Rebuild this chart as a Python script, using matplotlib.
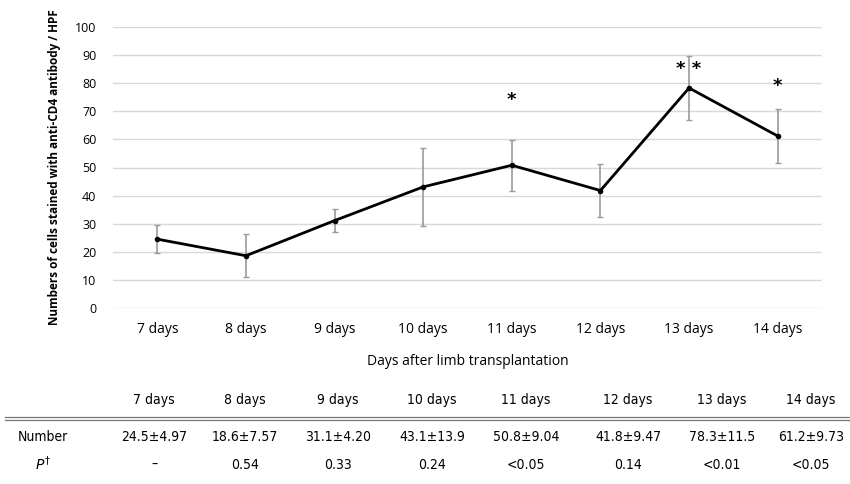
import matplotlib
matplotlib.use("Agg")
import matplotlib.pyplot as plt
import numpy as np

days = ["7 days", "8 days", "9 days", "10 days", "11 days", "12 days", "13 days", "14 days"]
means = [24.5, 18.6, 31.1, 43.1, 50.8, 41.8, 78.3, 61.2]
sds = [4.97, 7.57, 4.20, 13.9, 9.04, 9.47, 11.5, 9.73]
number_labels = ["24.5\u00b14.97", "18.6\u00b17.57", "31.1\u00b14.20", "43.1\u00b113.9",
                 "50.8\u00b19.04", "41.8\u00b19.47", "78.3\u00b111.5", "61.2\u00b19.73"]
p_labels = ["\u2013", "0.54", "0.33", "0.24", "<0.05", "0.14", "<0.01", "<0.05"]
stars = ["", "", "", "", "*", "", "* *", "*"]
star_y = [0, 0, 0, 0, 74, 0, 85, 79]

plt.rcParams['font.family'] = ['Open Sans', 'DejaVu Sans']

fig = plt.figure(figsize=(8.5, 4.84), dpi=100)
W, H = 850, 484
ax = fig.add_axes([113 / W, 1 - 308 / H, (822 - 113) / W, (308 - 27) / H])

x = np.arange(len(days))
ax.errorbar(x, means, yerr=sds, fmt='none', ecolor='#9a9a9a', elinewidth=1.2,
            capsize=2.5, capthick=1.0, zorder=2)
ax.plot(x, means, color='black', lw=2.0, marker='o', ms=3, zorder=3)

for xi, s, sy in zip(x, stars, star_y):
    if s:
        ax.text(xi, sy, s, ha='center', va='center', fontsize=13, fontweight='bold',
                family='DejaVu Sans')

ax.set_xlim(-0.5, len(days) - 0.5)
ax.set_ylim(0, 100)
ax.set_yticks(np.arange(0, 101, 10))
ax.yaxis.grid(True, color='#d9d9d9', lw=1.0)
ax.set_axisbelow(True)
for sp in ax.spines.values():
    sp.set_visible(False)
ax.tick_params(length=0)
ax.tick_params(axis='y', labelsize=9, pad=12)
ax.set_xticks(x)
ax.set_xticklabels(days, fontsize=10)
ax.tick_params(axis='x', pad=10)
ax.set_xlabel("Days after limb transplantation", fontsize=10, labelpad=12)
ax.set_ylabel("Numbers of cells stained with anti-CD4 antibody / HPF", fontsize=8.5,
              fontweight='bold', labelpad=10)

# table
tkw = dict(family='DejaVu Sans', stretch='condensed', fontsize=10)
col_x = [154, 245, 338, 432, 526, 628, 722, 811]
for cx, d in zip(col_x, days):
    fig.text(cx / W, 1 - 400 / H, d, ha='center', va='center', **tkw)
for yy in (417, 420):
    fig.add_artist(plt.Line2D([5 / W, 1.0], [1 - yy / H, 1 - yy / H], color='#777777', lw=0.9))
fig.text(43 / W, 1 - 437 / H, "Number", ha='center', va='center', **tkw)
fig.text(43 / W, 1 - 465 / H, r"$P^{\dagger}$", ha='center', va='center', fontsize=10)
for cx, nl, pl in zip(col_x, number_labels, p_labels):
    fig.text(cx / W, 1 - 437 / H, nl, ha='center', va='center', **tkw)
    fig.text(cx / W, 1 - 465 / H, pl, ha='center', va='center', **tkw)

fig.savefig("out.png", dpi=100)
